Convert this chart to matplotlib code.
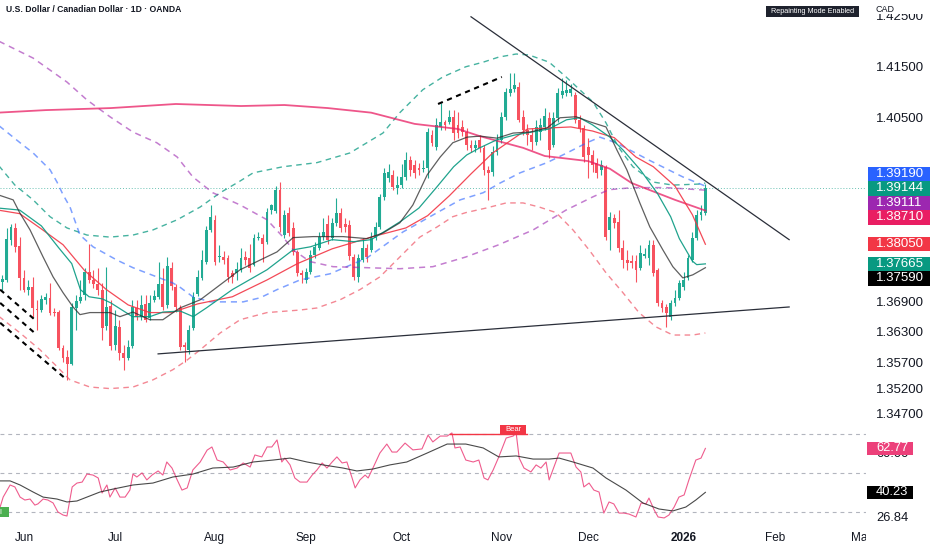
import matplotlib
matplotlib.use("Agg")
import matplotlib.pyplot as plt
import matplotlib.transforms as mtransforms
from matplotlib.patches import Rectangle
import numpy as np
import pandas as pd

plt.rcParams['font.family'] = ['Liberation Sans', 'DejaVu Sans']

# ---------------- data: USD/CAD daily candles (OANDA) ----------------
start_date = "2025-05-26"
end_date = "2026-01-09"
holidays = ["2025-12-25", "2026-01-01"]
future_end = "2026-03-31"

opens = [1.3731,1.3735,1.3814,1.3837,1.3802,1.3739,1.3716,1.3722,1.3678,1.3676,
         1.3696,1.3700,1.3672,1.3672,1.3602,1.3584,1.3571,1.3680,1.3694,1.3706,
         1.3751,1.3735,1.3727,1.3716,1.3645,1.3684,1.3608,1.3643,1.3592,1.3582,
         1.3606,1.3680,1.3663,1.3688,1.3661,1.3696,1.3702,1.3727,1.3686,1.3759,
         1.3721,1.3680,1.3608,1.3598,1.3641,1.3708,1.3739,1.3770,1.3833,1.3853,
         1.3780,1.3780,1.3778,1.3749,1.3749,1.3755,1.3780,1.3778,1.3765,1.3818,
         1.3818,1.3810,1.3872,1.3870,1.3912,1.3823,1.3866,1.3837,1.3790,1.3749,
         1.3735,1.3751,1.3784,1.3798,1.3820,1.3845,1.3818,1.3847,1.3866,1.3845,
         1.3843,1.3780,1.3741,1.3774,1.3798,1.3794,1.3818,1.3839,1.3898,1.3935,
         1.3941,1.3916,1.3921,1.3937,1.3970,1.3961,1.3955,1.3953,1.3955,1.4019,
         1.3996,1.4035,1.4045,1.4045,1.4055,1.4039,1.4035,1.4025,1.4000,1.3994,
         1.4010,1.3994,1.3951,1.3947,1.3986,1.4010,1.4055,1.4102,1.4110,1.4114,
         1.4055,1.4029,1.4019,1.4006,1.4025,1.4035,1.4053,1.4000,1.4053,1.4098,
         1.4102,1.4102,1.4098,1.4049,1.4033,1.3995,1.3980,1.3965,1.3951,1.3957,
         1.3833,1.3857,1.3849,1.3798,1.3774,1.3772,1.3772,1.3759,1.3782,1.3778,
         1.3804,1.3755,1.3690,1.3682,1.3663,1.3690,1.3700,1.3721,1.3739,1.3774,
         1.3818,1.3863,1.3866]
highs = [1.3745,1.3837,1.3845,1.3847,1.3819,1.3755,1.3735,1.3741,1.3696,1.3706,
         1.3710,1.3729,1.3680,1.3676,1.3608,1.3598,1.3690,1.3706,1.3735,1.3759,
         1.3806,1.3755,1.3759,1.3729,1.3761,1.3696,1.3676,1.3657,1.3608,1.3618,
         1.3696,1.3696,1.3706,1.3706,1.3706,1.3716,1.3770,1.3759,1.3780,1.3770,
         1.3727,1.3686,1.3614,1.3647,1.3712,1.3755,1.3794,1.3841,1.3882,1.3863,
         1.3804,1.3792,1.3784,1.3755,1.3770,1.3798,1.3792,1.3806,1.3825,1.3829,
         1.3825,1.3876,1.3884,1.3919,1.3927,1.3872,1.3878,1.3849,1.3794,1.3755,
         1.3759,1.3794,1.3810,1.3829,1.3857,1.3863,1.3857,1.3896,1.3876,1.3857,
         1.3853,1.3786,1.3786,1.3818,1.3806,1.3829,1.3849,1.3904,1.3955,1.3963,
         1.3951,1.3939,1.3963,1.3986,1.3978,1.3970,1.3965,1.3970,1.4033,1.4029,
         1.4053,1.4082,1.4049,1.4068,1.4068,1.4065,1.4049,1.4033,1.4010,1.4010,
         1.4019,1.4000,1.3959,1.3998,1.4021,1.4065,1.4112,1.4141,1.4141,1.4123,
         1.4068,1.4041,1.4033,1.4049,1.4053,1.4072,1.4065,1.4065,1.4112,1.4131,
         1.4127,1.4120,1.4104,1.4059,1.4039,1.4014,1.3990,1.3974,1.3970,1.3961,
         1.3868,1.3865,1.3872,1.3814,1.3794,1.3784,1.3784,1.3804,1.3798,1.3814,
         1.3814,1.3759,1.3696,1.3688,1.3696,1.3716,1.3735,1.3751,1.3784,1.3829,
         1.3872,1.3882,1.3923]
lows = [1.3716,1.3731,1.3804,1.3790,1.3716,1.3712,1.3706,1.3663,1.3637,1.3672,
        1.3688,1.3667,1.3665,1.3598,1.3574,1.3539,1.3569,1.3637,1.3690,1.3696,
        1.3729,1.3719,1.3706,1.3618,1.3637,1.3598,1.3598,1.3578,1.3559,1.3578,
        1.3602,1.3657,1.3657,1.3653,1.3657,1.3692,1.3698,1.3676,1.3680,1.3716,
        1.3672,1.3598,1.3574,1.3590,1.3637,1.3704,1.3735,1.3767,1.3829,1.3765,
        1.3770,1.3767,1.3731,1.3729,1.3735,1.3751,1.3765,1.3751,1.3762,1.3814,
        1.3770,1.3806,1.3865,1.3866,1.3829,1.3818,1.3821,1.3784,1.3743,1.3729,
        1.3729,1.3747,1.3778,1.3794,1.3814,1.3806,1.3814,1.3841,1.3829,1.3829,
        1.3774,1.3735,1.3731,1.3770,1.3770,1.3790,1.3814,1.3835,1.3892,1.3927,
        1.3912,1.3904,1.3916,1.3931,1.3939,1.3935,1.3941,1.3947,1.3935,1.3998,
        1.3990,1.4029,1.4029,1.4041,1.4010,1.4014,1.4017,1.3990,1.3986,1.3986,
        1.3986,1.3941,1.3892,1.3939,1.3980,1.4004,1.4049,1.4096,1.4104,1.4045,
        1.4019,1.4000,1.3990,1.4000,1.4010,1.4029,1.3974,1.3995,1.4045,1.4092,
        1.4096,1.4096,1.4043,1.4025,1.3966,1.3935,1.3947,1.3935,1.3941,1.3814,
        1.3794,1.3837,1.3790,1.3759,1.3755,1.3759,1.3731,1.3755,1.3778,1.3765,
        1.3743,1.3684,1.3672,1.3643,1.3657,1.3684,1.3696,1.3716,1.3735,1.3770,
        1.3814,1.3853,1.3863]
closes = [1.3737,1.3816,1.3839,1.3800,1.3739,1.3716,1.3722,1.3680,1.3676,1.3698,
          1.3702,1.3671,1.3671,1.3602,1.3582,1.3571,1.3682,1.3694,1.3702,1.3751,
          1.3735,1.3727,1.3716,1.3641,1.3682,1.3606,1.3645,1.3592,1.3582,1.3604,
          1.3682,1.3663,1.3686,1.3657,1.3690,1.3704,1.3727,1.3682,1.3763,1.3723,
          1.3682,1.3604,1.3604,1.3637,1.3702,1.3741,1.3774,1.3833,1.3859,1.3770,
          1.3782,1.3774,1.3741,1.3741,1.3757,1.3778,1.3774,1.3759,1.3818,1.3820,
          1.3806,1.3868,1.3882,1.3912,1.3839,1.3863,1.3827,1.3790,1.3749,1.3745,
          1.3751,1.3784,1.3800,1.3820,1.3829,1.3814,1.3847,1.3866,1.3837,1.3839,
          1.3782,1.3741,1.3778,1.3798,1.3780,1.3818,1.3839,1.3898,1.3945,1.3947,
          1.3918,1.3921,1.3937,1.3970,1.3951,1.3945,1.3951,1.3955,1.4025,1.4004,
          1.4039,1.4045,1.4039,1.4055,1.4023,1.4023,1.4025,1.4000,1.3994,1.4000,
          1.3994,1.3951,1.3945,1.3986,1.4010,1.4055,1.4104,1.4110,1.4117,1.4049,
          1.4029,1.4019,1.4006,1.4035,1.4039,1.4057,1.3990,1.4053,1.4102,1.4106,
          1.4108,1.4110,1.4049,1.4033,1.3976,1.3980,1.3961,1.3945,1.3961,1.3820,
          1.3859,1.3847,1.3798,1.3774,1.3769,1.3769,1.3755,1.3788,1.3786,1.3804,
          1.3749,1.3690,1.3680,1.3671,1.3690,1.3700,1.3729,1.3735,1.3778,1.3818,
          1.3863,1.3868,1.39144]

# ---------------- indicator lines (bar position, value) ----------------
ma_long_x = [-1,10,25,40,55,65,75,85,95,105,110,120,125,135,140,145,155,162]
ma_long_y = [1.4063,1.4068,1.4072,1.4080,1.4076,1.4078,1.4072,1.4063,1.4041,1.4031,
             1.4017,1.3994,1.3978,1.3968,1.3953,1.3925,1.3892,1.38710]

ma_red_x = [-1,4,9,14,19,24,29,34,39,45,53,61,68,76,85,93,98,103,108,113,121,131,
            136,141,146,150,155,159,162]
ma_red_y = [1.3872,1.3865,1.3835,1.3804,1.3753,1.3716,1.3686,1.3671,1.3671,1.3688,
            1.3702,1.3735,1.3767,1.3796,1.3819,1.3837,1.3861,1.3900,1.3943,1.3984,
            1.4031,1.4035,1.4027,1.4014,1.3976,1.3957,1.3919,1.3863,1.38050]

ma_teal_x = [-1,4,9,13,16,18,20,23,25,30,34,37,41,44,47,53,61,67,71,76,81,85,89,92,
             96,100,104,107,110,114,118,122,126,130,133,136,140,143,147,151,154,156,
             159,160,162]
ma_teal_y = [1.3876,1.3872,1.3841,1.3798,1.3767,1.3716,1.3702,1.3698,1.3690,1.3663,
             1.3663,1.3672,1.3674,1.3663,1.3680,1.3716,1.3755,1.3794,1.3800,1.3814,
             1.3810,1.3814,1.3835,1.3851,1.3876,1.3916,1.3957,1.3980,1.3994,1.4010,
             1.4019,1.4025,1.4031,1.4049,1.4053,1.4039,1.4015,1.3990,1.3951,1.3904,
             1.3859,1.3816,1.3772,1.3765,1.37665]

ma_black_x = [-1,2.5,4,6.4,9.4,11.7,14,16.3,17.9,20.2,24.8,27.1,30.1,34,37,40.9,45.6,
              49.5,54.8,59.4,63.3,67,71.6,78.5,84,87.7,91.6,94.6,97.9,100.9,103.8,
              107.1,110.1,114,117.7,121.6,125.5,128.5,132.2,135.4,139.1,141.6,143.9,
              146.9,149.2,152.2,154.5,156.8,159.1,162]
ma_black_y = [1.3902,1.3892,1.3867,1.3833,1.3780,1.3741,1.3710,1.3682,1.3667,1.3671,
              1.3671,1.3663,1.3672,1.3657,1.3657,1.3680,1.3696,1.3721,1.3755,1.3774,
              1.3790,1.3818,1.3820,1.3820,1.3816,1.3827,1.3847,1.3882,1.3941,1.3976,
              1.4004,1.4015,1.4017,1.4013,1.4023,1.4025,1.4033,1.4053,1.4055,1.4045,
              1.4035,1.3990,1.3951,1.3886,1.3839,1.3794,1.3761,1.3739,1.3745,1.37590]

band_up_x = [-1,2.9,7.1,11,14.9,19.5,24.8,30.1,34.7,40.3,45.6,50.2,54.8,57.8,64.7,
             72.5,80.1,87.7,91.6,96.9,101.5,106.8,110.8,114.4,118.4,121.4,126,129.9,
             133.8,136.1,139.1,141.9,145.3,149.9,154.5,160.5,162]
band_up_y = [1.3961,1.3921,1.3892,1.3859,1.3837,1.3823,1.3819,1.3823,1.3833,1.3853,
             1.3878,1.3906,1.3929,1.3945,1.3957,1.3965,1.3984,1.4023,1.4063,1.4108,
             1.4133,1.4153,1.4162,1.4172,1.4178,1.4176,1.4162,1.4133,1.4102,1.4084,
             1.4043,1.3996,1.3957,1.3927,1.3921,1.3923,1.3925]

band_lo_x = [-1,4.1,8.7,12.6,15.6,20.2,24.8,30.1,34.7,39.3,42.6,45.6,50.2,54.8,61,
             68.6,72.5,77.8,82.4,87,91.6,96.2,100.2,103.8,106.8,111.5,116.1,120,
             123.7,127.6,131.5,135.2,139.1,143,146.7,150.6,154.5,159.1,162]
band_lo_y = [1.3665,1.3631,1.3598,1.3565,1.3539,1.3525,1.3522,1.3525,1.3539,1.3559,
             1.3578,1.3598,1.3631,1.3657,1.3671,1.3676,1.3680,1.3696,1.3716,1.3741,
             1.3780,1.3819,1.3839,1.3859,1.3867,1.3876,1.3886,1.3886,1.3878,1.3867,
             1.3833,1.3794,1.3749,1.3710,1.3671,1.3643,1.3627,1.3627,1.3631]

blue_x = [-1,4.1,7.1,11,12.6,14,15.6,17.9,20.9,26.4,30.1,35.6,39.3,40.9,43.9,47.9,
          55.5,59.4,63.3,68.6,75.5,84,92.3,100.2,105.5,110.8,114.7,119.3,125.5,130.1,
          134.7,137.7,141.4,149,156.8,162]
blue_y = [1.4039,1.4004,1.3984,1.3951,1.3927,1.3902,1.3878,1.3823,1.3800,1.3774,
          1.3759,1.3741,1.3729,1.3721,1.3702,1.3692,1.3692,1.3700,1.3716,1.3735,
          1.3747,1.3778,1.3829,1.3867,1.3892,1.3906,1.3925,1.3945,1.3965,1.3984,
          1.4004,1.4015,1.4004,1.3970,1.3937,1.39190]

purple_x = [-1,7.1,14.9,19.5,24.8,30.1,35.6,40.3,43.9,48.5,54.8,61,64.7,67,70.9,76.2,
            84,91.6,99.2,106.8,114.4,122.3,129.9,136.1,139.8,145.3,152.9,162]
purple_y = [1.4204,1.4170,1.4123,1.4088,1.4055,1.4025,1.4004,1.3976,1.3937,1.3906,
            1.3882,1.3853,1.3819,1.3794,1.3771,1.3761,1.3759,1.3757,1.3761,1.3780,
            1.3804,1.3833,1.3872,1.3898,1.3912,1.3916,1.3916,1.39111]

# drawn pattern legs (black dashed) and trendlines
pattern_legs = [([100.4, 115.1], [1.4080, 1.4133]),
                ([-0.5, 7.5], [1.3716, 1.3657]),
                ([-0.5, 8.0], [1.3690, 1.3627]),
                ([-0.5, 14.9], [1.3651, 1.3539])]
trend_down = ([108.0, 181.3], [1.4251, 1.3814])
trend_up = ([35.9, 181.3], [1.3590, 1.3682])

# RSI pane
rsi_x = [-0.5,0.2,1.8,2.9,4.1,5.2,6.4,7.5,8.2,9.4,10.5,11.7,12.8,14,14.9,16.1,17.2,
         18.4,19.5,20.9,22.1,23,24.1,24.8,26,27.1,28.3,29.4,30.1,31,32.2,33.3,34.5,
         35.9,37,37.9,39.1,40.3,41.4,42.6,43.9,45.6,47.2,48.3,49.5,50.9,52.5,54.1,
         55.5,57.1,58.2,59.8,61,62.1,63.3,64.4,65.1,66.3,67.4,68.6,70.2,71.4,72.5,
         73.7,74.8,76,77.1,78.3,79.4,80.6,81.3,82.4,83.6,84.3,85.4,87,88.6,89.8,90.9,
         92.8,94.6,96.7,98.1,99.2,100.9,102.5,103.6,104.3,105.5,106.8,108.5,109.8,
         111,111.9,113.1,114.4,116.1,117.7,118.4,119.1,120.2,121.8,123,124.1,125.3,
         126,127.1,128.3,129.9,131,132.2,133.3,134,135.2,136.3,137.5,138.6,139.8,
         140.9,142.1,143.2,144.4,146,147.2,148.3,149,150.2,151.1,152.5,153.6,154.8,
         155.9,157.1,158.2,159.8,161,162]
rsi_y = [32.7,37.8,44.0,43.0,37.8,36.3,36.8,33.7,34.3,36.8,
         36.3,34.8,30.2,28.6,28.1,43.0,45.0,45.5,49.6,49.1,
         47.6,39.9,44.0,37.8,42.5,37.8,37.8,41.4,49.6,48.1,
         50.2,46.6,49.1,51.2,49.1,55.8,52.7,46.6,41.4,42.5,
         51.7,55.8,61.9,63.5,56.8,55.8,51.7,52.7,55.3,53.2,
         59.4,58.4,63.5,63.5,67.1,55.8,57.8,54.3,47.6,45.5,
         45.5,49.1,51.7,55.3,52.7,55.8,58.4,55.3,55.8,47.6,
         42.5,46.6,49.1,47.6,52.7,60.4,65.0,60.9,60.9,65.5,
         62.0,62.5,69.6,66.1,69.1,69.1,70.7,63.0,63.5,56.8,
         55.8,56.8,47.6,46.6,51.7,58.4,68.1,69.1,70.7,57.8,
         52.7,50.7,54.3,52.7,55.8,46.6,53.2,60.4,60.4,60.4,
         53.2,50.7,43.0,45.0,41.4,40.4,29.6,35.3,34.3,29.6,
         29.6,29.1,27.6,34.8,34.3,37.3,31.2,27.6,27.1,28.6,
         32.7,37.8,38.9,46.6,56.8,57.8,62.77]
rsi_ma_x = [-0.5,1.8,4.1,7.1,9.4,12.6,14.9,17.2,19.5,22.5,25.5,30.1,34.7,39.3,43.9,
            48.5,53.2,57.8,62.4,66.3,70.2,73.9,78.5,81.7,85.4,89.3,93.2,97.9,102.5,
            106.8,110.8,114.4,118.4,122.3,126,128.3,131.5,136.1,139.1,143.7,147.6,
            151.3,154.5,157.5,159.8,162]
rsi_ma_y = [46.1,46.1,44.0,40.4,37.8,36.8,35.3,35.8,37.8,40.4,
            41.9,44.0,45.0,48.1,49.6,52.7,53.2,55.8,56.8,57.8,
            55.8,54.3,52.7,51.2,52.2,54.3,55.8,60.4,65.0,65.0,
            63.0,58.4,58.9,57.3,57.3,57.8,55.8,52.7,47.6,41.4,
            34.8,31.7,30.7,32.7,36.3,40.23]
rsi_levels = [70, 50, 30]
bear_x = (103.2, 120.9)
bear_label_x = 117.7
bull_label_x = -1.5

price_ticks = [1.425, 1.415, 1.405, 1.369, 1.363, 1.357, 1.352, 1.347]
rsi_scale_texts = [60.00, 26.84]

title = "U.S. Dollar / Canadian Dollar · 1D · OANDA"

# ---------------- layout ----------------
W_PX, H_PX = 932, 550
PLOT_R = 866
MAIN_B = 425
RSI_B = 528
PX_BAR = 4.34
X0_PX = 2.3
PX_PER_PRICE = 5100.0
TOP_PRICE = 1.42839
RSI50_PX = 473.3
PX_PER_RSI = 1.95

GREEN = '#22ab94'
RED = '#f7525f'
TXT = '#131722'

fig = plt.figure(figsize=(W_PX / 100, H_PX / 100), dpi=100)
fig.patch.set_facecolor('white')
ax = fig.add_axes([0, 1 - MAIN_B / H_PX, PLOT_R / W_PX, MAIN_B / H_PX])
axr = fig.add_axes([0, 1 - RSI_B / H_PX, PLOT_R / W_PX, (RSI_B - MAIN_B) / H_PX])

xlim = (-X0_PX / PX_BAR, (PLOT_R - X0_PX) / PX_BAR)
for a in (ax, axr):
    a.set_xlim(*xlim)
    a.set_facecolor('white')
    for s in a.spines.values():
        s.set_visible(False)
    a.set_xticks([])
    a.set_yticks([])
ax.set_ylim(TOP_PRICE - MAIN_B / PX_PER_PRICE, TOP_PRICE)
axr.set_ylim(50 - (RSI_B - RSI50_PX) / PX_PER_RSI, 50 + (RSI50_PX - MAIN_B) / PX_PER_RSI)

# dates
dates = pd.bdate_range(start_date, end_date)
dates = dates[~dates.isin(pd.to_datetime(holidays))]
n = len(dates)
xs = np.arange(n)
future = pd.bdate_range(dates[-1] + pd.Timedelta(days=1), future_end)
all_dates = dates.append(future)

# ---------------- main pane ----------------
O = np.array(opens); Hh = np.array(highs); L = np.array(lows); C = np.array(closes)
up = C >= O
cols = np.where(up, GREEN, RED)
ax.vlines(xs, L, Hh, colors=cols, linewidth=0.8, zorder=2)
body = np.maximum(np.abs(C - O), 0.00005)
ax.bar(xs, body, bottom=np.minimum(O, C), width=0.66, color=cols, linewidth=0, zorder=2.1)

dash = (0, (4, 3.2))
ax.plot(band_up_x, band_up_y, color='#089981', alpha=0.75, lw=1.0, ls=dash, zorder=3)
ax.plot(band_lo_x, band_lo_y, color='#f06070', alpha=0.75, lw=1.0, ls=dash, zorder=3)
ax.plot(blue_x, blue_y, color='#2962ff', alpha=0.6, lw=1.1, ls=dash, zorder=3)
ax.plot(purple_x, purple_y, color='#9c27b0', alpha=0.6, lw=1.1, ls=dash, zorder=3)
ax.plot(ma_long_x, ma_long_y, color='#e91e63', alpha=0.75, lw=1.3, zorder=3.2)
ax.plot(ma_red_x, ma_red_y, color='#f23645', alpha=0.9, lw=0.9, zorder=3.3)
ax.plot(ma_teal_x, ma_teal_y, color='#089981', alpha=0.9, lw=0.9, zorder=3.3)
ax.plot(ma_black_x, ma_black_y, color='#2a2a2a', alpha=0.75, lw=0.9, zorder=3.3)

for lx, ly in pattern_legs:
    ax.plot(lx, ly, color='black', lw=1.5, ls=(0, (2.5, 2.2)), zorder=3.5)
ax.plot(*trend_down, color='#2a2e39', lw=0.9, zorder=3.6)
ax.plot(*trend_up, color='#2a2e39', lw=0.9, zorder=3.6)

ax.axhline(closes[-1], color='#089981', alpha=0.6, lw=0.7, ls=(0, (1, 2)), zorder=1.5)

# ---------------- RSI pane ----------------
for lv in rsi_levels:
    axr.axhline(lv, color='#b2b5be', lw=0.8, ls=(0, (3.5, 3.5)), zorder=1)
axr.plot(rsi_x, rsi_y, color='#ec407a', alpha=0.85, lw=0.8, zorder=3)
axr.plot(rsi_ma_x, rsi_ma_y, color='#2a2a2a', alpha=0.85, lw=0.8, zorder=3)
axr.plot(bear_x, [70, 70], color='#f23645', lw=1.0, zorder=3.5)
bh = 10 / PX_PER_RSI
bw = 26 / PX_BAR
axr.add_patch(Rectangle((bear_label_x - bw / 2, 69.8), bw, bh, facecolor='#f23645',
                        edgecolor='none', zorder=4))
axr.text(bear_label_x, 69.8 + bh / 2, 'Bear', color='white', fontsize=5.5,
         ha='center', va='center', zorder=5)
axr.add_patch(Rectangle((bull_label_x - bw / 2, 30 - bh / 2), bw, bh, facecolor='#4caf50',
                        edgecolor='none', zorder=4))
axr.text(bull_label_x, 30, 'Bull', color='white', fontsize=5.5, ha='center',
         va='center', zorder=5, clip_on=True)

# date labels
pos = pd.Series(np.arange(len(all_dates)), index=all_dates)
firsts = pos.groupby([all_dates.year, all_dates.month]).head(1)
for d, p in firsts.items():
    if d.day > 7:
        continue
    lab = str(d.year) if d.month == 1 else d.strftime('%b')
    axr.annotate(lab, xy=(p, 0), xycoords=('data', 'axes fraction'),
                 xytext=(0, -10), textcoords='offset pixels', ha='center', va='center',
                 fontsize=8.5, color=TXT, fontweight='bold' if d.month == 1 else 'normal',
                 annotation_clip=False)

# ---------------- right price scale ----------------
fig.add_artist(Rectangle((PLOT_R / W_PX, 0), 1 - PLOT_R / W_PX, 1, transform=fig.transFigure,
                         facecolor='white', edgecolor='none', zorder=5))
tr_main = mtransforms.blended_transform_factory(fig.transFigure, ax.transData)
tr_rsi = mtransforms.blended_transform_factory(fig.transFigure, axr.transData)
LBL_X = 876 / W_PX
for v in price_ticks:
    fig.text(LBL_X, v, f"{v:.5f}", transform=tr_main, ha='left', va='center',
             fontsize=9.5, color=TXT, zorder=6)
for v in rsi_scale_texts:
    fig.text(LBL_X, v, f"{v:.2f}", transform=tr_rsi, ha='left', va='center',
             fontsize=9.3, color=TXT, zorder=6)
fig.add_artist(Rectangle((PLOT_R / W_PX, 1 - 14 / H_PX), 1 - PLOT_R / W_PX, 14 / H_PX,
                         transform=fig.transFigure, facecolor='white', edgecolor='none',
                         zorder=6.5))
fig.text(876 / W_PX, 1 - 10 / H_PX, 'CAD', fontsize=6.5, color=TXT, ha='left',
         va='center', zorder=7)

# price badges with TradingView-like stacking around the last price
badges = [(blue_y[-1], '#2962ff'), (closes[-1], '#089981'), (purple_y[-1], '#9c27b0'),
          (ma_long_y[-1], '#e91e63'), (ma_red_y[-1], '#f23645'),
          (ma_teal_y[-1], '#089981'), (ma_black_y[-1], '#000000')]
BH = 14.5
nat = [ax.transData.transform((0, v))[1] for v, _ in badges]
order = sorted(range(len(badges)), key=lambda k: -nat[k])
anchor = order.index(1)
ypos = {order[anchor]: nat[order[anchor]]}
for j in range(anchor + 1, len(order)):
    ypos[order[j]] = min(nat[order[j]], ypos[order[j - 1]] - BH)
for j in range(anchor - 1, -1, -1):
    ypos[order[j]] = max(nat[order[j]], ypos[order[j + 1]] + BH)
fh = fig.bbox.height
for k, (v, c) in enumerate(badges):
    yc = ypos[k] / fh
    fig.add_artist(Rectangle((868 / W_PX, yc - BH / 2 / fh), 62 / W_PX, BH / fh,
                             transform=fig.transFigure, facecolor=c, edgecolor='none',
                             zorder=8))
    fig.text(LBL_X, yc, f"{v:.5f}", ha='left', va='center', fontsize=9.5,
             color='white', zorder=9)

# RSI badges
for v, c in [(rsi_y[-1], '#ec407a'), (rsi_ma_y[-1], '#000000')]:
    yc = axr.transData.transform((0, v))[1] / fh
    fig.add_artist(Rectangle((867 / W_PX, yc - 13.5 / 2 / fh), 46 / W_PX, 13.5 / fh,
                             transform=fig.transFigure, facecolor=c, edgecolor='none',
                             zorder=8))
    fig.text(LBL_X, yc, f"{v:.2f}", ha='left', va='center', fontsize=9.3,
             color='white', zorder=9)

# ---------------- header ----------------
fig.text(6 / W_PX, 1 - 9.5 / H_PX, title, fontsize=6.2, fontweight='bold', color=TXT,
         ha='left', va='center', zorder=10)
fig.add_artist(Rectangle((766 / W_PX, 1 - 17 / H_PX), 93 / W_PX, 11 / H_PX,
                         transform=fig.transFigure, facecolor='#1e222d', edgecolor='none',
                         zorder=10))
fig.text(812.5 / W_PX, 1 - 11.5 / H_PX, 'Repainting Mode Enabled', fontsize=5.2,
         color='white', ha='center', va='center', zorder=11)

fig.savefig('out.png', dpi=100)
